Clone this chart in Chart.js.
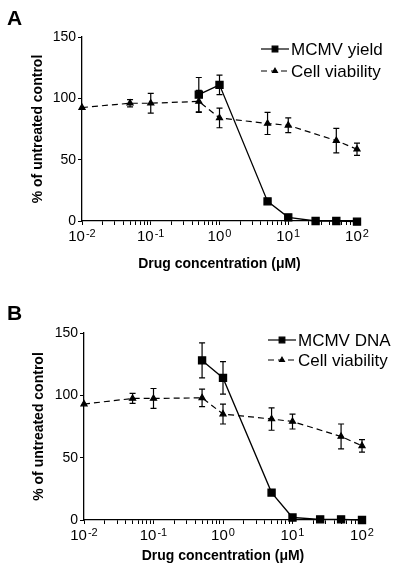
<!DOCTYPE html>
<html>
<head>
<meta charset="utf-8">
<script src="https://cdn.jsdelivr.net/npm/chart.js@4.4.0/dist/chart.umd.min.js"></script>
<style>
  html, body { margin: 0; padding: 0; background: #fff; }
  .panel { position: absolute; left: 0; width: 400px; }
</style>
</head>
<body>
<div class="panel" style="top:0;height:290px"><canvas id="chartA" width="400" height="290"></canvas></div>
<div class="panel" style="top:290px;height:287px"><canvas id="chartB" width="400" height="287"></canvas></div>
<script>
// concentrations (uM)
const viabilityConc = [0.01, 0.05, 0.1, 0.5, 1, 5, 10, 50, 100];
const virusConc = [0.5, 1, 5, 10, 25, 50, 100];

// panel A
const yieldA = [103, 111, 16, 3, 0, 0, -0.5];
const yieldErrA = [14, 8, 1, 0, 0, 0, 0];
const viabilityA = [92.5, 96, 96, 97.5, 84, 79.5, 78, 65.5, 58.5];
const viabilityErrA = [0, 3, 8, 9, 8, 9, 6, 10, 5];

// panel B
const dnaB = [128, 114, 22, 2, 0.5, 0.5, 0];
const dnaErrB = [14, 13, 2, 0, 0, 0, 0];
const viabilityB = [93, 97.5, 97.5, 98, 85, 81, 79, 67, 59.5];
const viabilityErrB = [0, 4, 8, 7, 8, 9, 6, 10, 5];

// axis ticks
const yTicks = [0, 50, 100, 150];
const xDecades = [-2, -1, 0, 1, 2];

const FONT = "'Liberation Sans', Arial, Helvetica, sans-serif";
Chart.defaults.font.family = FONT;
Chart.defaults.color = '#000';

function toPoints(xs, ys) {
  return xs.map((x, i) => ({ x: x, y: ys[i] }));
}

// minor + major ticks of the log axis: 1..9 x 10^d
function logTicks() {
  const out = [];
  xDecades.forEach((d, k) => {
    const steps = k === xDecades.length - 1 ? 1 : 9;
    for (let s = 1; s <= steps; s++) {
      out.push({ value: s * Math.pow(10, d), major: s === 1 });
    }
  });
  return out;
}

// vertical error bars with caps
const errorBarPlugin = {
  id: 'errorBars',
  afterDatasetsDraw(chart) {
    const { ctx, scales: { x, y } } = chart;
    ctx.save();
    ctx.strokeStyle = '#000';
    ctx.lineWidth = 1.2;
    chart.data.datasets.forEach(ds => {
      (ds.errors || []).forEach((e, i) => {
        if (!e) return;
        const pt = ds.data[i];
        const px = x.getPixelForValue(pt.x);
        const top = y.getPixelForValue(pt.y + e);
        const bot = y.getPixelForValue(pt.y - e);
        ctx.beginPath();
        ctx.moveTo(px, top); ctx.lineTo(px, bot);
        ctx.moveTo(px - 3, top); ctx.lineTo(px + 3, top);
        ctx.moveTo(px - 3, bot); ctx.lineTo(px + 3, bot);
        ctx.stroke();
      });
    });
    ctx.restore();
  }
};

// decade labels 10^n, panel letter and legend
const decorPlugin = {
  id: 'decor',
  afterDraw(chart) {
    const { ctx, scales: { x } } = chart;
    const o = chart.options.plugins.decor;
    ctx.save();
    ctx.fillStyle = '#000';
    ctx.textBaseline = 'middle';

    // x tick labels
    xDecades.forEach(d => {
      const px = x.getPixelForValue(Math.pow(10, d));
      ctx.font = '15px ' + FONT;
      const baseW = ctx.measureText('10').width;
      ctx.font = '11px ' + FONT;
      const exp = d < 0 ? '-' + (-d) : String(d);
      const expW = ctx.measureText(exp).width;
      const left = px - (baseW + expW + 1) / 2;
      ctx.font = '15px ' + FONT;
      ctx.textAlign = 'left';
      ctx.fillText('10', left, x.top + o.tickY);
      ctx.font = '11px ' + FONT;
      ctx.fillText(exp, left + baseW + 1, x.top + o.tickY - 3.5);
    });

    // panel letter
    ctx.font = 'bold 21px ' + FONT;
    ctx.textBaseline = 'alphabetic';
    ctx.fillText(o.letter, 7, o.letterY);

    // legend
    ctx.textBaseline = 'middle';
    chart.data.datasets.forEach((ds, i) => {
      const ly = o.legendY + i * o.legendGap;
      ctx.strokeStyle = '#000';
      ctx.lineWidth = 1.2;
      ctx.setLineDash(ds.borderDash || []);
      ctx.beginPath();
      ctx.moveTo(o.legendX, ly);
      ctx.lineTo(o.legendX + 28, ly);
      ctx.stroke();
      ctx.setLineDash([]);
      Chart.helpers.drawPoint(ctx, {
        pointStyle: ds.pointStyle,
        radius: ds.pointRadius * 0.8,
        borderWidth: 1
      }, o.legendX + 14, ly);
      ctx.font = '17px ' + FONT;
      ctx.fillText(ds.label, o.legendX + 30, ly + 1);
    });
    ctx.restore();
  }
};

function makePanel(id, cfg) {
  const canvas = document.getElementById(id);
  return new Chart(canvas, {
    type: 'scatter',
    data: {
      datasets: [
        {
          label: cfg.virusLabel,
          data: toPoints(virusConc, cfg.virus),
          errors: cfg.virusErr,
          showLine: true,
          borderColor: '#000',
          backgroundColor: '#000',
          borderWidth: 1.3,
          pointStyle: 'rect',
          pointRadius: 5,
          clip: false
        },
        {
          label: 'Cell viability',
          data: toPoints(viabilityConc, cfg.viability),
          errors: cfg.viabilityErr,
          showLine: true,
          borderColor: '#000',
          backgroundColor: '#000',
          borderWidth: 1.2,
          borderDash: [6, 4],
          pointStyle: 'triangle',
          pointRadius: 3.5,
          clip: false
        }
      ]
    },
    options: {
      responsive: false,
      animation: false,
      layout: { padding: { left: 0, top: cfg.top, right: 400 - cfg.right, bottom: 0 } },
      plugins: {
        legend: { display: false },
        tooltip: { enabled: false },
        decor: cfg.decor
      },
      scales: {
        x: {
          type: 'logarithmic',
          min: 0.01,
          max: 100,
          afterBuildTicks: s => { s.ticks = logTicks(); },
          afterFit: s => { s.height = canvas.height - cfg.bottom; },
          ticks: { display: false },
          grid: { drawOnChartArea: false, drawTicks: true, tickLength: 4, color: '#000', lineWidth: 1 },
          border: { display: true, color: '#000', width: 1.3 },
          title: {
            display: true,
            text: 'Drug concentration (\u03BCM)',
            font: { size: 14, weight: 'bold' },
            padding: { top: 0, bottom: cfg.xTitlePad }
          }
        },
        y: {
          min: 0,
          max: 150,
          afterBuildTicks: s => { s.ticks = yTicks.map(v => ({ value: v })); },
          afterFit: s => { s.width = cfg.left; },
          ticks: { font: { size: 14 }, padding: 2, color: '#000' },
          grid: { drawOnChartArea: false, drawTicks: true, tickLength: 4, color: '#000', lineWidth: 1 },
          border: { display: true, color: '#000', width: 1.3 },
          title: {
            display: true,
            text: '% of untreated control',
            font: { size: 14, weight: 'bold' },
            padding: { top: cfg.yTitlePad, bottom: 0 }
          }
        }
      }
    },
    plugins: [errorBarPlugin, decorPlugin]
  });
}

makePanel('chartA', {
  virusLabel: 'MCMV yield',
  virus: yieldA, virusErr: yieldErrA,
  viability: viabilityA, viabilityErr: viabilityErrA,
  left: 82, right: 357, top: 37, bottom: 221,
  xTitlePad: 17, yTitlePad: 30,
  decor: { letter: 'A', letterY: 25, tickY: 16, legendX: 261, legendY: 49, legendGap: 22 }
});

makePanel('chartB', {
  virusLabel: 'MCMV DNA',
  virus: dnaB, virusErr: dnaErrB,
  viability: viabilityB, viabilityErr: viabilityErrB,
  left: 84, right: 362, top: 43, bottom: 230,
  xTitlePad: 12, yTitlePad: 31,
  decor: { letter: 'B', letterY: 30, tickY: 16, legendX: 268, legendY: 50, legendGap: 20 }
});
</script>
</body>
</html>
